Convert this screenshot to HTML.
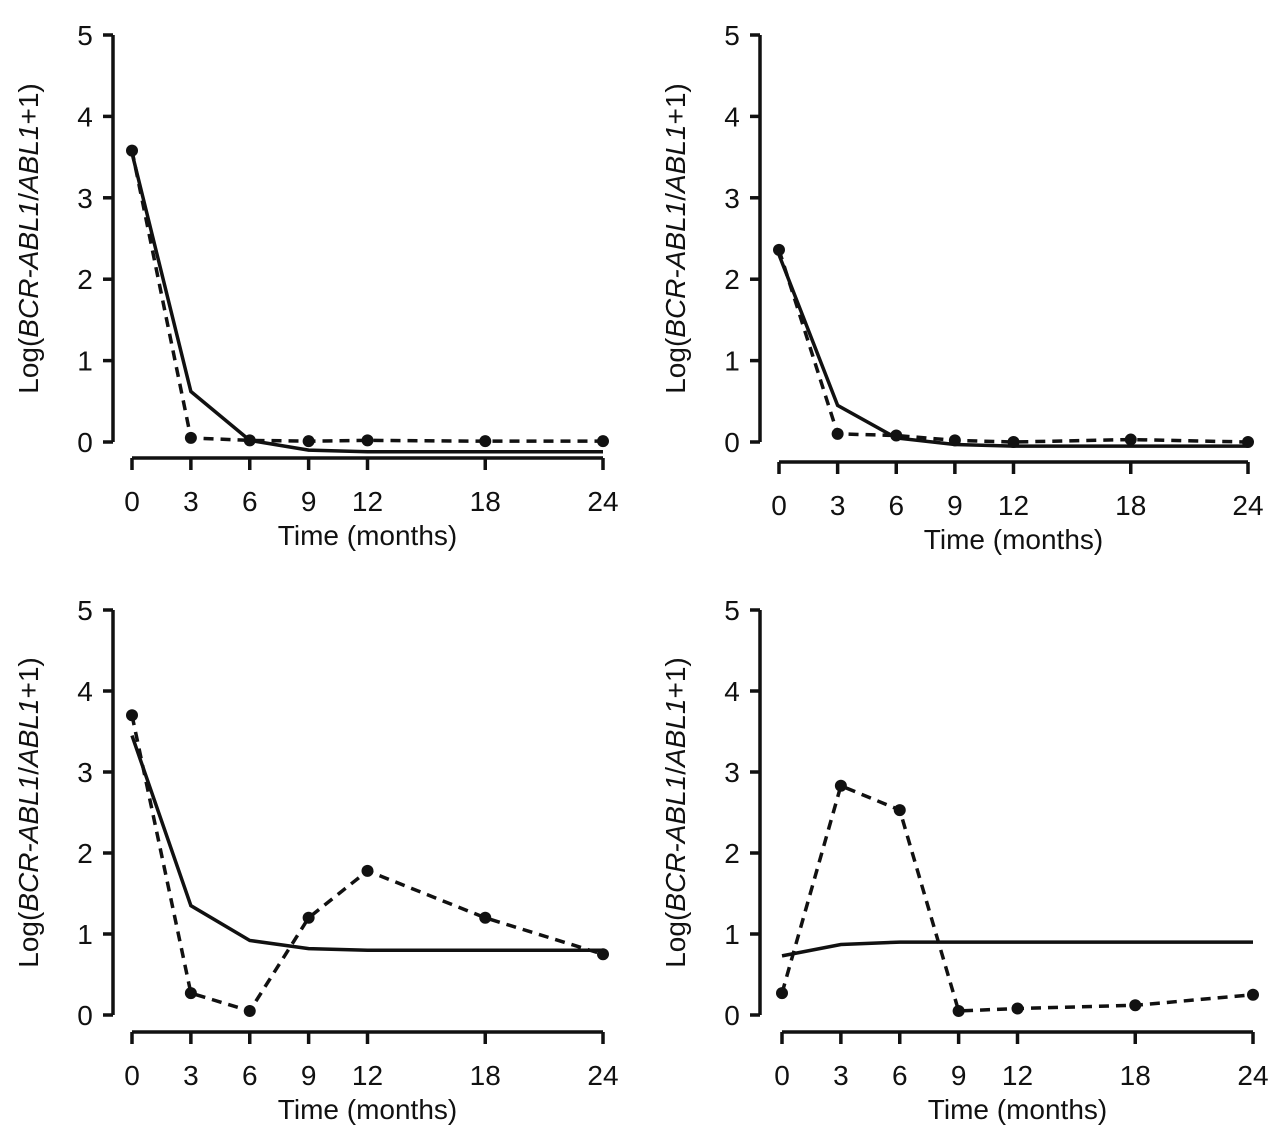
<!DOCTYPE html>
<html><head><meta charset="utf-8"><style>
body{margin:0;background:#fff}
svg text{font-family:"Liberation Sans Narrow","Liberation Sans",sans-serif;fill:#111}
</style></head><body>
<svg id="c" width="1280" height="1138" xmlns="http://www.w3.org/2000/svg"></svg>
<script>
const months=[0,3,6,9,12,18,24];
const yTicks=[0,1,2,3,4,5];
const dash1=[3.58,0.05,0.02,0.01,0.02,0.01,0.01];
const solid1=[3.55,0.62,0.02,-0.1,-0.12,-0.12,-0.12];
const dash2=[2.36,0.1,0.08,0.02,0.0,0.03,0.0];
const solid2=[2.3,0.45,0.05,-0.03,-0.05,-0.05,-0.05];
const dash3=[3.7,0.27,0.05,1.2,1.78,1.2,0.75];
const solid3=[3.45,1.35,0.92,0.82,0.8,0.8,0.8];
const dash4=[0.27,2.83,2.53,0.05,0.08,0.12,0.25];
const solid4=[0.73,0.87,0.9,0.9,0.9,0.9,0.9];
const panels=[
 {ax:113,x0:132,x1:603,y5:35,y0:442,xa:458,d:dash1,s:solid1},
 {ax:760,x0:779,x1:1248,y5:35,y0:442,xa:462,d:dash2,s:solid2},
 {ax:113,x0:132,x1:603,y5:610,y0:1015,xa:1032,d:dash3,s:solid3},
 {ax:760,x0:782,x1:1253,y5:610,y0:1015,xa:1032,d:dash4,s:solid4}
];
const svg=document.getElementById('c');
const NS='http://www.w3.org/2000/svg';
function mk(t,a,p){const e=document.createElementNS(NS,t);for(const k in a)e.setAttribute(k,a[k]);(p||svg).appendChild(e);return e;}
panels.forEach((P,i)=>{
 const g=mk('g',{});
 
 
 const X=m=>P.x0+(P.x1-P.x0)*m/24;
 const Y=v=>P.y0+(P.y5-P.y0)*v/5;
 const ya=mk('line',{x1:P.ax,x2:P.ax,y1:Y(0),y2:Y(5),stroke:'#111','stroke-width':3.5},g);
 
 
 yTicks.forEach(t=>{
  mk('line',{x1:P.ax-10,x2:P.ax,y1:Y(t),y2:Y(t),stroke:'#111','stroke-width':3.5},g);
  const tx=mk('text',{x:P.ax-28,y:Y(t)+10,'font-size':28,'text-anchor':'middle'},g);tx.textContent=t;
  
  
 });
 const xa=mk('line',{x1:X(0),x2:X(24),y1:P.xa,y2:P.xa,stroke:'#111','stroke-width':3.5},g);
 
 
 months.forEach(m=>{
  mk('line',{x1:X(m),x2:X(m),y1:P.xa,y2:P.xa+12,stroke:'#111','stroke-width':3.5},g);
  const tx=mk('text',{x:X(m),y:P.xa+53,'font-size':28,'text-anchor':'middle'},g);tx.textContent=m;
  
  
 });
 const xt=mk('text',{x:(X(0)+X(24))/2,y:P.xa+87,'font-size':28,'text-anchor':'middle'},g);xt.textContent='Time (months)';
 
 
 const cy=(Y(0)+Y(5))/2, cx=P.ax-75;
 const yt=mk('text',{x:cx,y:cy,'font-size':28,'text-anchor':'middle',transform:`rotate(-90 ${cx} ${cy})`},g);
 yt.innerHTML='Log(<tspan font-style="italic">BCR-ABL1</tspan>/<tspan font-style="italic">ABL1</tspan>+1)';
 
 
 const sl=mk('polyline',{points:P.s.map((v,k)=>X(months[k])+','+Y(v)).join(' '),fill:'none',stroke:'#111','stroke-width':3.5},g);
 
 
 const dl=mk('polyline',{points:P.d.map((v,k)=>X(months[k])+','+Y(v)).join(' '),fill:'none',stroke:'#111','stroke-width':3.5,'stroke-dasharray':'10,7'},g);
 
 
 P.d.forEach((v,k)=>{
  const c=mk('circle',{cx:X(months[k]),cy:Y(v),r:6,fill:'#111'},g);
  
  
 });
});
</script>
</body></html>
